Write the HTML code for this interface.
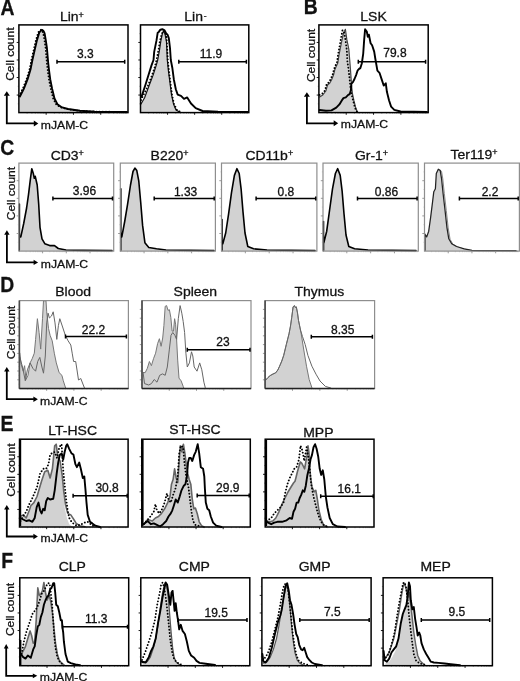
<!DOCTYPE html>
<html><head><meta charset="utf-8"><title>Figure</title>
<style>
html,body{margin:0;padding:0;background:#fff;width:520px;height:681px;overflow:hidden;}
svg{display:block;will-change:transform;font-family:"Liberation Sans", sans-serif;}
svg text{fill:#111;stroke:#111;stroke-width:0.3px;}
</style></head><body>
<svg width="520" height="681" viewBox="0 0 520 681">
<rect width="520" height="681" fill="#fff"/>
<text font-size="21.5" text-anchor="start" font-weight="bold" transform="translate(0.62,14.72) scale(0.9,1.0)">A</text>
<text font-size="21.5" text-anchor="start" font-weight="bold" transform="translate(303.84,13.78) scale(0.9,1.0)">B</text>
<path d="M6.80,95.30V123.40H34.30" stroke="#000" stroke-width="1.8" fill="none"/>
<path d="M6.80,91.30L3.80,95.80L9.80,95.80Z" fill="#000"/>
<path d="M38.30,123.40L33.80,120.40L33.80,126.40Z" fill="#000"/>
<text font-size="12.2" text-anchor="start" transform="translate(40.76,128.74) scale(1.0,0.85)">mJAM-C</text>
<text font-size="12" text-anchor="middle" transform="translate(14.46,54.14) rotate(-90) scale(1.0,0.87)">Cell count</text>
<path d="M306.90,96.30V123.30H334.20" stroke="#000" stroke-width="1.8" fill="none"/>
<path d="M306.90,92.30L303.90,96.80L309.90,96.80Z" fill="#000"/>
<path d="M338.20,123.30L333.70,120.30L333.70,126.30Z" fill="#000"/>
<text font-size="12.2" text-anchor="start" transform="translate(340.76,128.26) scale(1.0,0.85)">mJAM-C</text>
<text font-size="12" text-anchor="middle" transform="translate(314.92,55.46) rotate(-90) scale(1.0,0.87)">Cell count</text>
<polygon points="19.90,112.60 19.90,96.50 23.80,88.80 27.60,79.20 30.50,69.60 32.40,60.00 34.60,50.40 36.90,40.40 39.20,32.70 41.00,30.50 42.30,30.00 42.40,31.20 43.40,33.50 44.60,40.40 45.70,48.00 46.40,56.00 47.00,63.00 47.80,70.00 49.00,79.20 50.90,88.80 53.30,98.50 56.20,104.20 60.10,107.10 66.80,109.00 78.80,110.80 93.80,111.60 125.80,112.00 125.80,112.60" fill="#d2d2d2" stroke="none"/>
<polyline points="19.00,96.10 22.90,88.40 26.70,78.80 29.60,69.20 31.50,59.60 33.70,50.00 36.00,40.00 38.30,32.30 40.10,30.10 41.40,29.60 42.30,31.20 43.30,33.50 44.50,40.40 45.60,48.00 46.30,56.00 46.90,63.00 47.70,70.00 48.90,79.20 50.80,88.80 53.20,98.50 56.10,104.20 60.00,107.10 66.70,109.00 78.70,110.80 93.70,111.60 125.70,112.00" fill="none" stroke="#000" stroke-width="1.9" stroke-linejoin="round" stroke-linecap="round" stroke-dasharray="0.01 3.2"/>
<polyline points="19.90,96.50 23.80,88.80 27.60,79.20 30.50,69.60 32.40,60.00 34.60,50.40 36.90,40.40 39.20,32.70 41.00,30.50 42.30,30.00 43.60,31.20 44.60,33.50 45.80,40.40 46.90,48.00 47.60,56.00 48.20,63.00 49.00,70.00 50.20,79.20 52.10,88.80 54.50,98.50 57.40,104.20 61.30,107.10 68.00,109.00 80.00,110.80 95.00,111.60 127.00,112.00" fill="none" stroke="#000" stroke-width="1.9" stroke-linejoin="round" stroke-linecap="round"/>
<path d="M16.70,42.44H18.90 M16.70,59.98H18.90 M16.70,77.52H18.90 M16.70,95.06H18.90 M46.17,112.60V114.80 M73.45,112.60V114.80 M100.72,112.60V114.80" stroke="#000" stroke-width="0.9" fill="none"/>
<path d="M17.70,33.67H18.90 M17.70,51.21H18.90 M17.70,68.75H18.90 M17.70,86.29H18.90 M17.70,103.83H18.90 M27.11,112.60V113.80 M31.91,112.60V113.80 M35.32,112.60V113.80 M37.96,112.60V113.80 M40.12,112.60V113.80 M41.95,112.60V113.80 M43.53,112.60V113.80 M44.93,112.60V113.80 M54.39,112.60V113.80 M59.19,112.60V113.80 M62.60,112.60V113.80 M65.24,112.60V113.80 M67.40,112.60V113.80 M69.23,112.60V113.80 M70.81,112.60V113.80 M72.20,112.60V113.80 M81.66,112.60V113.80 M86.46,112.60V113.80 M89.87,112.60V113.80 M92.51,112.60V113.80 M94.67,112.60V113.80 M96.50,112.60V113.80 M98.08,112.60V113.80 M99.48,112.60V113.80 M108.94,112.60V113.80 M113.74,112.60V113.80 M117.15,112.60V113.80 M119.79,112.60V113.80 M121.95,112.60V113.80 M123.78,112.60V113.80 M125.36,112.60V113.80 M126.75,112.60V113.80" stroke="#000" stroke-width="0.5" stroke-opacity="0.6" fill="none"/>
<rect x="18.90" y="24.90" width="109.10" height="87.70" fill="none" stroke="#000" stroke-width="1.5"/>
<text font-size="14.0" text-anchor="middle" transform="translate(71.88,21.34) scale(1.0,0.93)">Lin<tspan font-size="9" dy="-3.9">+</tspan></text>
<path d="M57.00,61.80H124.70M57.00,59.80V63.80M124.70,59.80V63.80" stroke="#000" stroke-width="1.5" fill="none"/>
<text x="85.44" y="58.30" font-size="12" text-anchor="middle">3.3</text>
<polygon points="141.00,112.60 141.00,104.00 144.60,97.70 149.20,85.40 153.00,75.40 156.20,65.40 157.70,60.00 159.50,50.00 161.00,40.00 162.50,33.00 163.50,31.00 165.00,34.00 166.50,42.00 167.30,60.00 168.50,71.50 170.00,83.00 171.50,94.60 173.50,104.00 176.00,110.00 180.00,112.30 180.00,112.60" fill="#d2d2d2" stroke="none"/>
<polyline points="141.00,104.00 144.60,97.70 149.20,85.40 153.00,75.40 156.20,65.40 157.70,60.00 159.50,50.00 161.00,40.00 162.50,33.00 163.50,31.00 165.00,34.00 166.50,42.00 167.30,60.00 168.50,71.50 170.00,83.00 171.50,94.60 173.50,104.00 176.00,110.00 180.00,112.30" fill="none" stroke="#111" stroke-width="1.2" stroke-linejoin="round" stroke-linecap="round"/>
<polyline points="141.00,100.00 143.00,96.00 147.00,88.00 151.00,78.00 154.50,68.00 156.50,60.00 158.50,50.00 160.00,40.40 161.50,35.00 163.00,31.00 165.00,32.00 166.50,37.00 167.30,50.00 167.80,60.00 169.00,71.50 170.50,83.00 172.00,94.60 174.00,104.00 177.00,110.00 181.00,112.30" fill="none" stroke="#000" stroke-width="1.9" stroke-linejoin="round" stroke-linecap="round" stroke-dasharray="0.01 3.2"/>
<polyline points="141.50,96.90 145.40,85.00 148.50,75.00 151.50,65.40 153.50,60.00 154.20,51.90 156.50,40.40 157.70,32.70 158.80,31.90 160.40,29.60 162.30,29.20 164.60,30.40 166.20,33.50 167.70,35.00 168.80,38.10 170.00,48.00 170.80,60.00 172.30,67.70 173.80,79.20 175.80,89.20 177.70,94.60 181.00,95.80 184.00,98.90 187.20,97.40 191.00,103.50 195.70,108.20 202.60,111.00 218.00,111.70 248.00,112.00" fill="none" stroke="#000" stroke-width="1.9" stroke-linejoin="round" stroke-linecap="round"/>
<path d="M138.30,42.44H140.50 M138.30,59.98H140.50 M138.30,77.52H140.50 M138.30,95.06H140.50 M167.57,112.60V114.80 M194.65,112.60V114.80 M221.73,112.60V114.80" stroke="#000" stroke-width="0.9" fill="none"/>
<path d="M139.30,33.67H140.50 M139.30,51.21H140.50 M139.30,68.75H140.50 M139.30,86.29H140.50 M139.30,103.83H140.50 M148.65,112.60V113.80 M153.42,112.60V113.80 M156.80,112.60V113.80 M159.42,112.60V113.80 M161.57,112.60V113.80 M163.38,112.60V113.80 M164.95,112.60V113.80 M166.34,112.60V113.80 M175.73,112.60V113.80 M180.49,112.60V113.80 M183.88,112.60V113.80 M186.50,112.60V113.80 M188.64,112.60V113.80 M190.46,112.60V113.80 M192.03,112.60V113.80 M193.41,112.60V113.80 M202.80,112.60V113.80 M207.57,112.60V113.80 M210.95,112.60V113.80 M213.57,112.60V113.80 M215.72,112.60V113.80 M217.53,112.60V113.80 M219.10,112.60V113.80 M220.49,112.60V113.80 M229.88,112.60V113.80 M234.64,112.60V113.80 M238.03,112.60V113.80 M240.65,112.60V113.80 M242.79,112.60V113.80 M244.61,112.60V113.80 M246.18,112.60V113.80 M247.56,112.60V113.80" stroke="#000" stroke-width="0.5" stroke-opacity="0.6" fill="none"/>
<rect x="140.50" y="24.90" width="108.30" height="87.70" fill="none" stroke="#000" stroke-width="1.5"/>
<text font-size="14.0" text-anchor="middle" transform="translate(195.38,21.34) scale(1.0,0.93)">Lin<tspan font-size="8.5" dx="0.8" dy="-3.8">-</tspan></text>
<path d="M178.80,61.80H246.40M178.80,59.80V63.80M246.40,59.80V63.80" stroke="#000" stroke-width="1.5" fill="none"/>
<text x="210.96" y="58.30" font-size="12" text-anchor="middle">11.9</text>
<polygon points="319.60,112.60 319.60,97.00 322.80,95.00 325.80,91.00 327.50,85.00 329.80,83.00 331.50,80.00 333.50,75.00 334.70,70.00 335.90,67.00 337.80,63.00 339.00,55.00 340.40,48.00 342.00,40.00 343.50,33.00 345.40,29.30 346.80,39.40 348.80,49.00 349.70,60.00 350.50,70.00 351.20,80.00 351.80,88.00 352.50,94.00 354.00,101.00 355.50,107.00 357.00,111.00 358.00,112.50 358.00,112.60" fill="#d2d2d2" stroke="none"/>
<polyline points="319.60,97.00 322.80,95.00 325.80,91.00 327.50,85.00 329.80,83.00 331.50,80.00 333.50,75.00 334.70,70.00 335.90,67.00 337.80,63.00 339.00,55.00 340.40,48.00 342.00,40.00 343.50,33.00 345.40,29.30 346.80,39.40 348.80,49.00 349.70,60.00 350.50,70.00 351.20,80.00 351.80,88.00 352.50,94.00 354.00,101.00 355.50,107.00 357.00,111.00 358.00,112.50" fill="none" stroke="#444" stroke-width="1.2" stroke-linejoin="round" stroke-linecap="round"/>
<polyline points="319.60,94.90 322.80,93.30 325.10,90.20 326.70,83.80 329.10,82.20 330.70,79.00 332.70,74.30 333.90,69.50 335.10,66.30 337.00,62.40 338.20,53.80 339.60,46.20 341.10,37.50 342.50,30.30 344.00,32.00 345.50,40.00 346.80,50.00 347.40,61.60 348.60,69.50 349.70,79.80 350.50,87.80 351.30,93.30 352.90,99.70 354.50,106.00 356.10,110.80 358.00,112.30" fill="none" stroke="#000" stroke-width="1.9" stroke-linejoin="round" stroke-linecap="round" stroke-dasharray="0.01 3.2"/>
<polyline points="319.60,110.00 325.90,110.80 331.50,110.40 336.30,107.60 339.40,104.40 341.80,100.50 343.40,98.10 345.80,97.30 348.20,94.90 349.70,94.10 350.90,90.20 351.30,83.80 352.90,82.20 354.50,79.00 356.10,75.10 357.70,70.30 359.50,68.50 360.30,68.30 361.80,63.50 363.20,53.80 364.20,39.40 365.10,29.30 366.80,31.50 367.80,36.80 368.90,34.70 370.60,43.20 372.10,45.30 374.20,51.60 375.20,58.00 377.40,70.70 379.50,72.80 381.60,79.10 383.70,85.50 385.80,83.30 386.90,91.80 389.00,100.30 391.10,106.60 394.30,109.80 400.60,111.50 427.00,112.00" fill="none" stroke="#000" stroke-width="1.9" stroke-linejoin="round" stroke-linecap="round"/>
<path d="M316.70,42.44H318.90 M316.70,59.98H318.90 M316.70,77.52H318.90 M316.70,95.06H318.90 M346.22,112.60V114.80 M373.55,112.60V114.80 M400.88,112.60V114.80" stroke="#000" stroke-width="0.9" fill="none"/>
<path d="M317.70,33.67H318.90 M317.70,51.21H318.90 M317.70,68.75H318.90 M317.70,86.29H318.90 M317.70,103.83H318.90 M327.13,112.60V113.80 M331.94,112.60V113.80 M335.35,112.60V113.80 M338.00,112.60V113.80 M340.16,112.60V113.80 M341.99,112.60V113.80 M343.58,112.60V113.80 M344.97,112.60V113.80 M354.45,112.60V113.80 M359.26,112.60V113.80 M362.68,112.60V113.80 M365.32,112.60V113.80 M367.49,112.60V113.80 M369.32,112.60V113.80 M370.90,112.60V113.80 M372.30,112.60V113.80 M381.78,112.60V113.80 M386.59,112.60V113.80 M390.00,112.60V113.80 M392.65,112.60V113.80 M394.81,112.60V113.80 M396.64,112.60V113.80 M398.23,112.60V113.80 M399.62,112.60V113.80 M409.10,112.60V113.80 M413.91,112.60V113.80 M417.33,112.60V113.80 M419.97,112.60V113.80 M422.14,112.60V113.80 M423.97,112.60V113.80 M425.55,112.60V113.80 M426.95,112.60V113.80" stroke="#000" stroke-width="0.5" stroke-opacity="0.6" fill="none"/>
<rect x="318.90" y="24.90" width="109.30" height="87.70" fill="none" stroke="#000" stroke-width="1.5"/>
<text font-size="14.0" text-anchor="middle" transform="translate(373.52,21.34) scale(1.0,0.93)">LSK</text>
<path d="M358.30,61.80H425.60M358.30,59.80V63.80M425.60,59.80V63.80" stroke="#000" stroke-width="1.5" fill="none"/>
<text x="394.96" y="57.00" font-size="12" text-anchor="middle">79.8</text>
<text font-size="21.5" text-anchor="start" font-weight="bold" transform="translate(0.30,154.62) scale(0.9,1.0)">C</text>
<path d="M6.90,234.30V262.40H34.10" stroke="#000" stroke-width="1.8" fill="none"/>
<path d="M6.90,230.30L4.20,234.80L9.60,234.80Z" fill="#000"/>
<path d="M38.10,262.40L33.60,259.70L33.60,265.10Z" fill="#000"/>
<text font-size="12.2" text-anchor="start" transform="translate(40.76,267.84) scale(1.0,0.85)">mJAM-C</text>
<text font-size="12" text-anchor="middle" transform="translate(14.72,193.56) rotate(-90) scale(1.0,0.87)">Cell count</text>
<polygon points="20.80,251.10 20.80,236.90 23.70,223.50 26.60,208.00 28.50,194.60 30.40,179.20 31.80,168.70 33.30,173.50 34.30,178.30 35.20,176.30 37.20,185.00 38.70,204.20 40.00,227.30 42.00,238.80 44.80,243.70 49.70,245.60 54.50,245.60 58.30,248.50 66.00,250.00 83.30,250.40 112.00,250.60 112.00,251.10" fill="#d2d2d2" stroke="none"/>
<polyline points="19.40,250.60 19.40,204.00 19.40,236.90 20.80,236.90 23.70,223.50 26.60,208.00 28.50,194.60 30.40,179.20 31.80,168.70 33.30,173.50 34.30,178.30 35.20,176.30 37.20,185.00 38.70,204.20 40.00,227.30 42.00,238.80 44.80,243.70 49.70,245.60 54.50,245.60 58.30,248.50 66.00,250.00 83.30,250.40 112.00,250.60" fill="none" stroke="#000" stroke-width="1.6" stroke-linejoin="round" stroke-linecap="round"/>
<path d="M16.70,180.70H18.90 M16.70,198.30H18.90 M16.70,215.90H18.90 M16.70,233.50H18.90 M42.60,251.10V253.30 M66.30,251.10V253.30 M90.00,251.10V253.30" stroke="#8e8e8e" stroke-width="0.9" fill="none"/>
<path d="M17.70,171.90H18.90 M17.70,189.50H18.90 M17.70,207.10H18.90 M17.70,224.70H18.90 M17.70,242.30H18.90 M26.03,251.10V252.30 M30.21,251.10V252.30 M33.17,251.10V252.30 M35.47,251.10V252.30 M37.34,251.10V252.30 M38.93,251.10V252.30 M40.30,251.10V252.30 M41.52,251.10V252.30 M49.73,251.10V252.30 M53.91,251.10V252.30 M56.87,251.10V252.30 M59.17,251.10V252.30 M61.04,251.10V252.30 M62.63,251.10V252.30 M64.00,251.10V252.30 M65.22,251.10V252.30 M73.43,251.10V252.30 M77.61,251.10V252.30 M80.57,251.10V252.30 M82.87,251.10V252.30 M84.74,251.10V252.30 M86.33,251.10V252.30 M87.70,251.10V252.30 M88.92,251.10V252.30 M97.13,251.10V252.30 M101.31,251.10V252.30 M104.27,251.10V252.30 M106.57,251.10V252.30 M108.44,251.10V252.30 M110.03,251.10V252.30 M111.40,251.10V252.30 M112.62,251.10V252.30" stroke="#8e8e8e" stroke-width="0.5" stroke-opacity="0.6" fill="none"/>
<rect x="18.90" y="163.10" width="94.80" height="88.00" fill="none" stroke="#8e8e8e" stroke-width="1.2"/>
<text font-size="14.0" text-anchor="middle" transform="translate(67.26,159.50) scale(1.0,0.93)">CD3<tspan font-size="9" dy="-3.9">+</tspan></text>
<path d="M52.90,198.50H112.50M52.90,196.50V200.50M112.50,196.50V200.50" stroke="#000" stroke-width="1.5" fill="none"/>
<text x="84.53" y="195.34" font-size="12" text-anchor="middle">3.96</text>
<polygon points="121.80,251.10 121.80,236.90 124.70,221.50 127.60,204.20 130.50,185.00 133.00,171.50 134.90,168.10 136.80,170.60 138.80,181.20 140.70,202.30 142.60,225.40 144.90,242.70 148.80,247.50 156.50,248.80 166.00,250.00 214.00,250.60 214.00,251.10" fill="#d2d2d2" stroke="none"/>
<polyline points="120.80,250.60 120.80,188.80 120.80,236.90 121.80,236.90 124.70,221.50 127.60,204.20 130.50,185.00 133.00,171.50 134.90,168.10 136.80,170.60 138.80,181.20 140.70,202.30 142.60,225.40 144.90,242.70 148.80,247.50 156.50,248.80 166.00,250.00 214.00,250.60" fill="none" stroke="#000" stroke-width="1.6" stroke-linejoin="round" stroke-linecap="round"/>
<path d="M118.10,180.70H120.30 M118.10,198.30H120.30 M118.10,215.90H120.30 M118.10,233.50H120.30 M144.07,251.10V253.30 M167.85,251.10V253.30 M191.62,251.10V253.30" stroke="#8e8e8e" stroke-width="0.9" fill="none"/>
<path d="M119.10,171.90H120.30 M119.10,189.50H120.30 M119.10,207.10H120.30 M119.10,224.70H120.30 M119.10,242.30H120.30 M127.46,251.10V252.30 M131.64,251.10V252.30 M134.61,251.10V252.30 M136.92,251.10V252.30 M138.80,251.10V252.30 M140.39,251.10V252.30 M141.77,251.10V252.30 M142.99,251.10V252.30 M151.23,251.10V252.30 M155.42,251.10V252.30 M158.39,251.10V252.30 M160.69,251.10V252.30 M162.58,251.10V252.30 M164.17,251.10V252.30 M165.55,251.10V252.30 M166.76,251.10V252.30 M175.01,251.10V252.30 M179.19,251.10V252.30 M182.16,251.10V252.30 M184.47,251.10V252.30 M186.35,251.10V252.30 M187.94,251.10V252.30 M189.32,251.10V252.30 M190.54,251.10V252.30 M198.78,251.10V252.30 M202.97,251.10V252.30 M205.94,251.10V252.30 M208.24,251.10V252.30 M210.13,251.10V252.30 M211.72,251.10V252.30 M213.10,251.10V252.30 M214.31,251.10V252.30" stroke="#8e8e8e" stroke-width="0.5" stroke-opacity="0.6" fill="none"/>
<rect x="120.30" y="163.10" width="95.10" height="88.00" fill="none" stroke="#8e8e8e" stroke-width="1.2"/>
<text font-size="14.0" text-anchor="middle" transform="translate(169.53,159.50) scale(1.0,0.93)">B220<tspan font-size="9" dy="-3.9">+</tspan></text>
<path d="M154.20,198.50H214.20M154.20,196.50V200.50M214.20,196.50V200.50" stroke="#000" stroke-width="1.5" fill="none"/>
<text x="185.63" y="195.66" font-size="12" text-anchor="middle">1.33</text>
<polygon points="222.80,251.10 222.80,243.70 225.70,233.00 228.60,213.80 231.50,192.70 234.40,175.40 236.90,168.70 239.20,173.50 241.10,188.80 243.00,211.90 245.00,233.00 247.80,246.50 253.60,248.80 267.00,250.00 315.00,250.60 315.00,251.10" fill="#d2d2d2" stroke="none"/>
<polyline points="222.00,250.60 222.00,219.60 222.00,243.70 222.80,243.70 225.70,233.00 228.60,213.80 231.50,192.70 234.40,175.40 236.90,168.70 239.20,173.50 241.10,188.80 243.00,211.90 245.00,233.00 247.80,246.50 253.60,248.80 267.00,250.00 315.00,250.60" fill="none" stroke="#000" stroke-width="1.6" stroke-linejoin="round" stroke-linecap="round"/>
<path d="M219.30,180.70H221.50 M219.30,198.30H221.50 M219.30,215.90H221.50 M219.30,233.50H221.50 M245.35,251.10V253.30 M269.20,251.10V253.30 M293.05,251.10V253.30" stroke="#8e8e8e" stroke-width="0.9" fill="none"/>
<path d="M220.30,171.90H221.50 M220.30,189.50H221.50 M220.30,207.10H221.50 M220.30,224.70H221.50 M220.30,242.30H221.50 M228.68,251.10V252.30 M232.88,251.10V252.30 M235.86,251.10V252.30 M238.17,251.10V252.30 M240.06,251.10V252.30 M241.66,251.10V252.30 M243.04,251.10V252.30 M244.26,251.10V252.30 M252.53,251.10V252.30 M256.73,251.10V252.30 M259.71,251.10V252.30 M262.02,251.10V252.30 M263.91,251.10V252.30 M265.51,251.10V252.30 M266.89,251.10V252.30 M268.11,251.10V252.30 M276.38,251.10V252.30 M280.58,251.10V252.30 M283.56,251.10V252.30 M285.87,251.10V252.30 M287.76,251.10V252.30 M289.36,251.10V252.30 M290.74,251.10V252.30 M291.96,251.10V252.30 M300.23,251.10V252.30 M304.43,251.10V252.30 M307.41,251.10V252.30 M309.72,251.10V252.30 M311.61,251.10V252.30 M313.21,251.10V252.30 M314.59,251.10V252.30 M315.81,251.10V252.30" stroke="#8e8e8e" stroke-width="0.5" stroke-opacity="0.6" fill="none"/>
<rect x="221.50" y="163.10" width="95.40" height="88.00" fill="none" stroke="#8e8e8e" stroke-width="1.2"/>
<text font-size="14.0" text-anchor="middle" transform="translate(269.28,159.50) scale(1.0,0.93)">CD11b<tspan font-size="9" dy="-3.9">+</tspan></text>
<path d="M256.10,198.50H315.70M256.10,196.50V200.50M315.70,196.50V200.50" stroke="#000" stroke-width="1.5" fill="none"/>
<text x="285.91" y="195.98" font-size="12" text-anchor="middle">0.8</text>
<polygon points="323.80,251.10 323.80,242.70 326.70,231.20 329.60,210.00 332.50,188.80 335.40,173.50 337.70,168.70 340.20,175.40 342.10,190.80 344.00,213.80 346.00,235.00 348.80,246.50 354.60,248.80 368.00,250.00 416.00,250.60 416.00,251.10" fill="#d2d2d2" stroke="none"/>
<polyline points="323.50,250.60 323.50,221.50 323.50,242.70 323.80,242.70 326.70,231.20 329.60,210.00 332.50,188.80 335.40,173.50 337.70,168.70 340.20,175.40 342.10,190.80 344.00,213.80 346.00,235.00 348.80,246.50 354.60,248.80 368.00,250.00 416.00,250.60" fill="none" stroke="#000" stroke-width="1.6" stroke-linejoin="round" stroke-linecap="round"/>
<path d="M320.80,180.70H323.00 M320.80,198.30H323.00 M320.80,215.90H323.00 M320.80,233.50H323.00 M346.82,251.10V253.30 M370.65,251.10V253.30 M394.48,251.10V253.30" stroke="#8e8e8e" stroke-width="0.9" fill="none"/>
<path d="M321.80,171.90H323.00 M321.80,189.50H323.00 M321.80,207.10H323.00 M321.80,224.70H323.00 M321.80,242.30H323.00 M330.17,251.10V252.30 M334.37,251.10V252.30 M337.34,251.10V252.30 M339.65,251.10V252.30 M341.54,251.10V252.30 M343.13,251.10V252.30 M344.52,251.10V252.30 M345.73,251.10V252.30 M354.00,251.10V252.30 M358.19,251.10V252.30 M361.17,251.10V252.30 M363.48,251.10V252.30 M365.36,251.10V252.30 M366.96,251.10V252.30 M368.34,251.10V252.30 M369.56,251.10V252.30 M377.82,251.10V252.30 M382.02,251.10V252.30 M384.99,251.10V252.30 M387.30,251.10V252.30 M389.19,251.10V252.30 M390.78,251.10V252.30 M392.17,251.10V252.30 M393.38,251.10V252.30 M401.65,251.10V252.30 M405.84,251.10V252.30 M408.82,251.10V252.30 M411.13,251.10V252.30 M413.01,251.10V252.30 M414.61,251.10V252.30 M415.99,251.10V252.30 M417.21,251.10V252.30" stroke="#8e8e8e" stroke-width="0.5" stroke-opacity="0.6" fill="none"/>
<rect x="323.00" y="163.10" width="95.30" height="88.00" fill="none" stroke="#8e8e8e" stroke-width="1.2"/>
<text font-size="14.0" text-anchor="middle" transform="translate(371.53,159.50) scale(1.0,0.93)">Gr-1<tspan font-size="9" dy="-3.9">+</tspan></text>
<path d="M357.50,198.50H417.10M357.50,196.50V200.50M417.10,196.50V200.50" stroke="#000" stroke-width="1.5" fill="none"/>
<text x="386.47" y="195.98" font-size="12" text-anchor="middle">0.86</text>
<polyline points="431.90,218.30 433.80,202.90 435.10,192.30 436.70,189.40 437.60,174.10 439.60,169.80 441.50,171.20 442.80,178.90 444.30,193.30 446.30,210.60 448.20,227.90 450.10,239.40 453.00,244.30 457.80,247.10 465.50,249.40 473.30,251.00 517.30,251.20" fill="none" stroke="#888" stroke-width="1.0" stroke-linejoin="round" stroke-linecap="round"/>
<polygon points="424.80,251.10 424.80,234.00 426.70,236.90 428.70,231.20 430.60,217.70 432.50,202.30 433.80,191.70 435.40,188.80 436.30,173.50 438.30,169.20 440.20,170.60 441.50,178.30 443.00,192.70 445.00,210.00 446.90,227.30 448.80,238.80 451.70,243.70 456.50,246.50 464.20,248.80 472.00,250.40 516.00,250.60 516.00,251.10" fill="#d2d2d2" stroke="none"/>
<polyline points="425.00,250.60 425.00,234.00 425.00,234.00 424.80,234.00 426.70,236.90 428.70,231.20 430.60,217.70 432.50,202.30 433.80,191.70 435.40,188.80 436.30,173.50 438.30,169.20 440.20,170.60 441.50,178.30 443.00,192.70 445.00,210.00 446.90,227.30 448.80,238.80 451.70,243.70 456.50,246.50 464.20,248.80 472.00,250.40 516.00,250.60" fill="none" stroke="#222" stroke-width="1.25" stroke-linejoin="round" stroke-linecap="round"/>
<path d="M422.30,180.70H424.50 M422.30,198.30H424.50 M422.30,215.90H424.50 M422.30,233.50H424.50 M448.23,251.10V253.30 M471.95,251.10V253.30 M495.67,251.10V253.30" stroke="#8e8e8e" stroke-width="0.9" fill="none"/>
<path d="M423.30,171.90H424.50 M423.30,189.50H424.50 M423.30,207.10H424.50 M423.30,224.70H424.50 M423.30,242.30H424.50 M431.64,251.10V252.30 M435.82,251.10V252.30 M438.78,251.10V252.30 M441.08,251.10V252.30 M442.96,251.10V252.30 M444.55,251.10V252.30 M445.93,251.10V252.30 M447.14,251.10V252.30 M455.37,251.10V252.30 M459.54,251.10V252.30 M462.51,251.10V252.30 M464.81,251.10V252.30 M466.69,251.10V252.30 M468.27,251.10V252.30 M469.65,251.10V252.30 M470.86,251.10V252.30 M479.09,251.10V252.30 M483.27,251.10V252.30 M486.23,251.10V252.30 M488.53,251.10V252.30 M490.41,251.10V252.30 M492.00,251.10V252.30 M493.38,251.10V252.30 M494.59,251.10V252.30 M502.82,251.10V252.30 M506.99,251.10V252.30 M509.96,251.10V252.30 M512.26,251.10V252.30 M514.14,251.10V252.30 M515.72,251.10V252.30 M517.10,251.10V252.30 M518.31,251.10V252.30" stroke="#8e8e8e" stroke-width="0.5" stroke-opacity="0.6" fill="none"/>
<rect x="424.50" y="163.10" width="94.90" height="88.00" fill="none" stroke="#8e8e8e" stroke-width="1.2"/>
<text font-size="14.0" text-anchor="middle" transform="translate(473.95,158.70) scale(1.0,0.93)">Ter119<tspan font-size="9" dy="-3.9">+</tspan></text>
<path d="M459.40,198.50H518.20M459.40,196.50V200.50M518.20,196.50V200.50" stroke="#000" stroke-width="1.5" fill="none"/>
<text x="490.00" y="195.98" font-size="12" text-anchor="middle">2.2</text>
<text font-size="21.5" text-anchor="start" font-weight="bold" transform="translate(0.30,292.16) scale(0.9,1.0)">D</text>
<path d="M6.80,371.10V399.20H33.90" stroke="#000" stroke-width="1.8" fill="none"/>
<path d="M6.80,367.10L4.10,371.60L9.50,371.60Z" fill="#000"/>
<path d="M37.90,399.20L33.40,396.50L33.40,401.90Z" fill="#000"/>
<text font-size="12.2" text-anchor="start" transform="translate(40.08,404.76) scale(1.0,0.85)">mJAM-C</text>
<text font-size="12" text-anchor="middle" transform="translate(14.92,332.48) rotate(-90) scale(1.0,0.87)">Cell count</text>
<polygon points="19.80,388.60 19.80,353.20 21.10,364.30 23.20,371.20 24.60,365.70 26.00,379.50 28.00,375.30 30.10,362.90 32.20,358.70 34.30,353.20 35.60,339.40 37.40,318.70 39.10,332.50 40.70,349.10 42.50,318.70 43.50,300.80 46.00,300.80 46.70,311.80 48.50,328.40 50.10,335.30 52.20,340.80 54.30,353.20 56.30,362.90 59.10,372.60 61.90,375.30 63.30,380.80 65.30,387.00 66.00,388.50 66.00,388.60" fill="#d2d2d2" stroke="none"/>
<polyline points="19.80,353.20 21.10,364.30 23.20,371.20 24.60,365.70 26.00,379.50 28.00,375.30 30.10,362.90 32.20,358.70 34.30,353.20 35.60,339.40 37.40,318.70 39.10,332.50 40.70,349.10 42.50,318.70 43.50,300.80 46.00,300.80 46.70,311.80 48.50,328.40 50.10,335.30 52.20,340.80 54.30,353.20 56.30,362.90 59.10,372.60 61.90,375.30 63.30,380.80 65.30,387.00 66.00,388.50" fill="none" stroke="#777" stroke-width="1.0" stroke-linejoin="round" stroke-linecap="round"/>
<polyline points="19.80,357.40 22.50,367.00 25.30,380.80 27.40,369.80 30.10,362.90 32.90,368.40 35.60,371.20 37.70,361.50 39.80,357.40 41.90,367.00 43.50,373.20 45.30,356.00 46.70,322.90 48.10,313.20 49.40,318.00 51.50,316.00 53.20,311.80 55.00,322.90 56.80,339.40 58.40,325.60 59.80,318.70 62.60,327.00 65.30,335.30 68.10,340.80 70.80,345.00 72.20,353.20 73.60,361.50 75.70,361.50 77.00,370.00 78.50,380.00 80.80,378.50 82.50,383.00 84.60,388.30" fill="none" stroke="#666" stroke-width="1.0" stroke-linejoin="round" stroke-linecap="round"/>
<path d="M17.20,309.40H19.40 M17.20,318.20H19.40 M17.20,327.00H19.40 M17.20,335.80H19.40 M17.20,344.60H19.40 M17.20,353.40H19.40 M17.20,362.20H19.40 M17.20,371.00H19.40 M17.20,379.80H19.40 M46.65,388.60V390.80 M73.90,388.60V390.80 M101.15,388.60V390.80" stroke="#8e8e8e" stroke-width="0.9" fill="none"/>
<path d="M18.20,305.00H19.40 M18.20,313.80H19.40 M18.20,322.60H19.40 M18.20,331.40H19.40 M18.20,340.20H19.40 M18.20,349.00H19.40 M18.20,357.80H19.40 M18.20,366.60H19.40 M18.20,375.40H19.40 M18.20,384.20H19.40 M27.60,388.60V389.80 M32.40,388.60V389.80 M35.81,388.60V389.80 M38.45,388.60V389.80 M40.60,388.60V389.80 M42.43,388.60V389.80 M44.01,388.60V389.80 M45.40,388.60V389.80 M54.85,388.60V389.80 M59.65,388.60V389.80 M63.06,388.60V389.80 M65.70,388.60V389.80 M67.85,388.60V389.80 M69.68,388.60V389.80 M71.26,388.60V389.80 M72.65,388.60V389.80 M82.10,388.60V389.80 M86.90,388.60V389.80 M90.31,388.60V389.80 M92.95,388.60V389.80 M95.10,388.60V389.80 M96.93,388.60V389.80 M98.51,388.60V389.80 M99.90,388.60V389.80 M109.35,388.60V389.80 M114.15,388.60V389.80 M117.56,388.60V389.80 M120.20,388.60V389.80 M122.35,388.60V389.80 M124.18,388.60V389.80 M125.76,388.60V389.80 M127.15,388.60V389.80" stroke="#8e8e8e" stroke-width="0.5" stroke-opacity="0.6" fill="none"/>
<rect x="19.40" y="300.60" width="109.00" height="88.00" fill="none" stroke="#8e8e8e" stroke-width="1.2"/>
<path d="M19.4,300.6V388.6" stroke="#4a4a4a" stroke-width="1.6" fill="none"/>
<path d="M19.4,388.6H128.4" stroke="#222" stroke-width="1.5" fill="none"/>
<text font-size="14.0" text-anchor="middle" transform="translate(73.14,295.60) scale(1.0,0.93)">Blood</text>
<path d="M65.50,336.40H126.40M65.50,334.40V338.40M126.40,334.40V338.40" stroke="#000" stroke-width="1.5" fill="none"/>
<text x="93.48" y="333.64" font-size="12" text-anchor="middle">22.2</text>
<polygon points="143.10,388.60 143.10,372.60 145.20,372.60 147.30,368.40 149.40,361.50 151.40,365.70 153.50,358.70 155.60,353.20 157.60,343.60 159.40,338.70 161.10,346.30 162.70,338.00 163.90,325.60 165.20,306.30 166.60,305.60 168.00,310.40 169.40,309.70 170.80,317.30 172.10,331.10 173.50,331.10 174.60,318.70 175.60,324.20 176.60,339.40 177.70,360.10 179.00,378.10 181.10,380.80 183.20,386.40 184.00,388.50 184.00,388.60" fill="#d2d2d2" stroke="none"/>
<polyline points="143.10,372.60 145.20,372.60 147.30,368.40 149.40,361.50 151.40,365.70 153.50,358.70 155.60,353.20 157.60,343.60 159.40,338.70 161.10,346.30 162.70,338.00 163.90,325.60 165.20,306.30 166.60,305.60 168.00,310.40 169.40,309.70 170.80,317.30 172.10,331.10 173.50,331.10 174.60,318.70 175.60,324.20 176.60,339.40 177.70,360.10 179.00,378.10 181.10,380.80 183.20,386.40 184.00,388.50" fill="none" stroke="#777" stroke-width="1.0" stroke-linejoin="round" stroke-linecap="round"/>
<polyline points="143.10,372.60 144.50,383.60 148.70,385.00 151.40,383.60 154.20,379.50 157.00,382.20 159.70,375.30 162.50,373.90 165.20,375.30 167.30,367.00 169.40,349.10 171.00,335.30 172.80,332.50 174.90,335.30 176.60,339.40 178.30,318.70 180.10,305.60 181.80,313.20 183.20,321.50 184.60,332.50 185.90,353.20 187.30,367.00 189.40,362.90 191.50,351.80 192.80,356.00 194.20,367.00 197.00,371.20 199.70,362.90 201.80,369.80 203.90,382.20 205.30,387.70 206.00,388.50" fill="none" stroke="#666" stroke-width="1.0" stroke-linejoin="round" stroke-linecap="round"/>
<path d="M139.80,309.40H142.00 M139.80,318.20H142.00 M139.80,327.00H142.00 M139.80,335.80H142.00 M139.80,344.60H142.00 M139.80,353.40H142.00 M139.80,362.20H142.00 M139.80,371.00H142.00 M139.80,379.80H142.00 M169.25,388.60V390.80 M196.50,388.60V390.80 M223.75,388.60V390.80" stroke="#8e8e8e" stroke-width="0.9" fill="none"/>
<path d="M140.80,305.00H142.00 M140.80,313.80H142.00 M140.80,322.60H142.00 M140.80,331.40H142.00 M140.80,340.20H142.00 M140.80,349.00H142.00 M140.80,357.80H142.00 M140.80,366.60H142.00 M140.80,375.40H142.00 M140.80,384.20H142.00 M150.20,388.60V389.80 M155.00,388.60V389.80 M158.41,388.60V389.80 M161.05,388.60V389.80 M163.20,388.60V389.80 M165.03,388.60V389.80 M166.61,388.60V389.80 M168.00,388.60V389.80 M177.45,388.60V389.80 M182.25,388.60V389.80 M185.66,388.60V389.80 M188.30,388.60V389.80 M190.45,388.60V389.80 M192.28,388.60V389.80 M193.86,388.60V389.80 M195.25,388.60V389.80 M204.70,388.60V389.80 M209.50,388.60V389.80 M212.91,388.60V389.80 M215.55,388.60V389.80 M217.70,388.60V389.80 M219.53,388.60V389.80 M221.11,388.60V389.80 M222.50,388.60V389.80 M231.95,388.60V389.80 M236.75,388.60V389.80 M240.16,388.60V389.80 M242.80,388.60V389.80 M244.95,388.60V389.80 M246.78,388.60V389.80 M248.36,388.60V389.80 M249.75,388.60V389.80" stroke="#8e8e8e" stroke-width="0.5" stroke-opacity="0.6" fill="none"/>
<rect x="142.00" y="300.60" width="109.00" height="88.00" fill="none" stroke="#8e8e8e" stroke-width="1.2"/>
<path d="M142,300.6V388.6" stroke="#4a4a4a" stroke-width="1.6" fill="none"/>
<path d="M142,388.6H251" stroke="#222" stroke-width="1.5" fill="none"/>
<text font-size="14.0" text-anchor="middle" transform="translate(195.32,295.60) scale(1.0,0.93)">Spleen</text>
<path d="M187.30,349.80H250.00M187.30,347.80V351.80M250.00,347.80V351.80" stroke="#000" stroke-width="1.5" fill="none"/>
<text x="222.92" y="346.08" font-size="12" text-anchor="middle">23</text>
<polygon points="265.60,388.60 265.60,380.20 268.00,377.50 270.20,375.60 273.00,374.00 275.60,372.90 277.80,370.00 279.60,366.20 281.80,361.00 283.70,355.40 285.00,350.00 286.30,344.60 289.00,333.90 290.50,326.00 291.70,317.70 293.10,306.90 294.40,305.60 295.30,307.50 296.30,306.90 297.50,313.00 298.50,320.40 301.20,333.90 303.80,350.00 306.50,366.20 309.20,379.60 311.90,387.70 311.90,388.60" fill="#d2d2d2" stroke="none"/>
<polyline points="265.60,380.20 268.00,377.50 270.20,375.60 273.00,374.00 275.60,372.90 277.80,370.00 279.60,366.20 281.80,361.00 283.70,355.40 285.00,350.00 286.30,344.60 289.00,333.90 290.50,326.00 291.70,317.70 293.10,306.90 294.40,305.60 295.30,307.50 296.30,306.90 297.50,313.00 298.50,320.40 301.20,333.90 303.80,350.00 306.50,366.20 309.20,379.60 311.90,387.70" fill="none" stroke="#777" stroke-width="1.0" stroke-linejoin="round" stroke-linecap="round"/>
<polyline points="265.60,380.20 268.00,377.50 270.20,375.60 273.00,374.00 275.60,372.90 277.80,370.00 279.60,366.20 281.80,361.00 283.70,355.40 285.00,350.00 286.30,344.60 289.00,333.90 290.50,326.00 291.70,317.70 293.10,306.90 294.40,305.60 295.30,307.50 296.30,306.90 297.50,313.00 298.50,320.40 300.50,330.00 302.50,336.50 305.20,344.60 307.90,355.40 311.90,366.20 316.00,374.20 320.00,381.00 325.40,386.40 330.80,388.00" fill="none" stroke="#666" stroke-width="1.0" stroke-linejoin="round" stroke-linecap="round"/>
<path d="M262.90,309.40H265.10 M262.90,318.20H265.10 M262.90,327.00H265.10 M262.90,335.80H265.10 M262.90,344.60H265.10 M262.90,353.40H265.10 M262.90,362.20H265.10 M262.90,371.00H265.10 M262.90,379.80H265.10 M292.48,388.60V390.80 M319.85,388.60V390.80 M347.23,388.60V390.80" stroke="#8e8e8e" stroke-width="0.9" fill="none"/>
<path d="M263.90,305.00H265.10 M263.90,313.80H265.10 M263.90,322.60H265.10 M263.90,331.40H265.10 M263.90,340.20H265.10 M263.90,349.00H265.10 M263.90,357.80H265.10 M263.90,366.60H265.10 M263.90,375.40H265.10 M263.90,384.20H265.10 M273.34,388.60V389.80 M278.16,388.60V389.80 M281.58,388.60V389.80 M284.23,388.60V389.80 M286.40,388.60V389.80 M288.23,388.60V389.80 M289.82,388.60V389.80 M291.22,388.60V389.80 M300.72,388.60V389.80 M305.54,388.60V389.80 M308.96,388.60V389.80 M311.61,388.60V389.80 M313.78,388.60V389.80 M315.61,388.60V389.80 M317.20,388.60V389.80 M318.60,388.60V389.80 M328.09,388.60V389.80 M332.91,388.60V389.80 M336.33,388.60V389.80 M338.98,388.60V389.80 M341.15,388.60V389.80 M342.98,388.60V389.80 M344.57,388.60V389.80 M345.97,388.60V389.80 M355.47,388.60V389.80 M360.29,388.60V389.80 M363.71,388.60V389.80 M366.36,388.60V389.80 M368.53,388.60V389.80 M370.36,388.60V389.80 M371.95,388.60V389.80 M373.35,388.60V389.80" stroke="#8e8e8e" stroke-width="0.5" stroke-opacity="0.6" fill="none"/>
<rect x="265.10" y="300.60" width="109.50" height="88.00" fill="none" stroke="#8e8e8e" stroke-width="1.2"/>
<path d="M265.1,300.6V388.6" stroke="#4a4a4a" stroke-width="1.6" fill="none"/>
<path d="M265.1,388.6H374.6" stroke="#222" stroke-width="1.5" fill="none"/>
<text font-size="14.0" text-anchor="middle" transform="translate(319.36,295.60) scale(1.0,0.93)">Thymus</text>
<path d="M311.30,336.80H372.40M311.30,334.80V338.80M372.40,334.80V338.80" stroke="#000" stroke-width="1.5" fill="none"/>
<text x="342.78" y="333.80" font-size="12" text-anchor="middle">8.35</text>
<text font-size="21.5" text-anchor="start" font-weight="bold" transform="translate(0.48,430.56) scale(0.9,1.0)">E</text>
<path d="M6.80,509.10V536.50H33.90" stroke="#000" stroke-width="1.8" fill="none"/>
<path d="M6.80,505.10L4.10,509.60L9.50,509.60Z" fill="#000"/>
<path d="M37.90,536.50L33.40,533.80L33.40,539.20Z" fill="#000"/>
<text font-size="12.2" text-anchor="start" transform="translate(40.60,542.18) scale(1.0,0.85)">mJAM-C</text>
<text font-size="12" text-anchor="middle" transform="translate(14.50,470.14) rotate(-90) scale(1.0,0.87)">Cell count</text>
<polygon points="20.10,527.00 20.10,516.50 23.20,514.90 26.20,518.00 29.30,510.30 30.80,505.70 33.90,502.60 37.00,496.50 41.60,481.00 44.70,471.80 47.80,470.30 50.10,478.00 52.40,468.80 54.70,445.70 56.20,444.20 57.80,456.50 59.30,452.50 60.30,462.00 61.30,471.00 62.30,481.00 63.50,494.00 64.60,507.20 66.90,518.00 69.20,524.20 72.30,526.50 72.30,527.00" fill="#d2d2d2" stroke="none"/>
<polyline points="20.10,516.50 23.20,514.90 26.20,518.00 29.30,510.30 30.80,505.70 33.90,502.60 37.00,496.50 41.60,481.00 44.70,471.80 47.80,470.30 50.10,478.00 52.40,468.80 54.70,445.70 56.20,444.20 57.80,456.50 60.10,461.00 62.30,476.50 63.80,491.80 65.40,504.20 67.70,513.40 70.80,514.90 73.80,519.50 76.20,523.40 80.00,525.70 85.00,526.80" fill="none" stroke="#666" stroke-width="1.6" stroke-linejoin="round" stroke-linecap="round"/>
<polyline points="20.50,521.00 23.20,516.00 26.20,511.80 28.50,505.70 32.40,498.00 37.00,487.20 40.10,473.40 43.20,468.80 46.20,468.80 48.50,464.20 50.10,454.90 52.40,452.60 54.70,452.00 57.00,458.00 59.30,447.20 61.60,444.20 63.10,468.80 64.60,484.20 66.20,499.50 67.70,510.30 69.20,518.00 71.50,521.80 74.00,524.00 76.90,525.70 81.50,524.20 84.60,522.60 87.70,521.80 90.80,524.20 93.80,526.50" fill="none" stroke="#000" stroke-width="1.9" stroke-linejoin="round" stroke-linecap="round" stroke-dasharray="0.01 3.2"/>
<polyline points="20.10,518.00 23.20,519.50 26.20,521.00 29.30,520.30 32.40,521.80 34.70,518.00 36.70,507.20 38.50,502.60 40.10,510.30 41.60,513.40 43.20,508.80 44.70,510.30 46.20,501.10 47.80,498.00 50.10,499.50 53.20,498.80 54.70,490.30 56.70,473.40 58.20,462.60 59.80,454.90 61.60,453.40 63.20,459.50 64.70,451.80 66.20,445.70 67.20,444.20 69.20,448.80 71.50,453.40 73.40,454.50 75.40,464.20 76.90,467.20 79.20,462.60 80.80,468.80 82.80,478.00 84.30,476.50 85.40,488.80 86.50,502.60 87.70,514.90 90.00,521.80 92.30,523.40 95.40,525.70 100.00,527.00" fill="none" stroke="#000" stroke-width="1.9" stroke-linejoin="round" stroke-linecap="round"/>
<path d="M20.2,440V526" stroke="#000" stroke-width="2.0" fill="none"/>
<path d="M17.30,456.76H19.50 M17.30,474.32H19.50 M17.30,491.88H19.50 M17.30,509.44H19.50 M46.65,527.00V529.20 M73.80,527.00V529.20 M100.95,527.00V529.20" stroke="#000" stroke-width="0.9" fill="none"/>
<path d="M18.30,447.98H19.50 M18.30,465.54H19.50 M18.30,483.10H19.50 M18.30,500.66H19.50 M18.30,518.22H19.50 M27.67,527.00V528.20 M32.45,527.00V528.20 M35.85,527.00V528.20 M38.48,527.00V528.20 M40.63,527.00V528.20 M42.44,527.00V528.20 M44.02,527.00V528.20 M45.41,527.00V528.20 M54.82,527.00V528.20 M59.60,527.00V528.20 M63.00,527.00V528.20 M65.63,527.00V528.20 M67.78,527.00V528.20 M69.59,527.00V528.20 M71.17,527.00V528.20 M72.56,527.00V528.20 M81.97,527.00V528.20 M86.75,527.00V528.20 M90.15,527.00V528.20 M92.78,527.00V528.20 M94.93,527.00V528.20 M96.74,527.00V528.20 M98.32,527.00V528.20 M99.71,527.00V528.20 M109.12,527.00V528.20 M113.90,527.00V528.20 M117.30,527.00V528.20 M119.93,527.00V528.20 M122.08,527.00V528.20 M123.89,527.00V528.20 M125.47,527.00V528.20 M126.86,527.00V528.20" stroke="#000" stroke-width="0.5" stroke-opacity="0.6" fill="none"/>
<rect x="19.50" y="439.20" width="108.60" height="87.80" fill="none" stroke="#000" stroke-width="1.5"/>
<text font-size="14.0" text-anchor="middle" transform="translate(72.66,435.14) scale(1.0,0.93)">LT-HSC</text>
<path d="M73.10,495.80H127.20M73.10,493.80V497.80M127.20,493.80V497.80" stroke="#000" stroke-width="1.5" fill="none"/>
<text x="107.08" y="492.44" font-size="12" text-anchor="middle">30.8</text>
<polygon points="143.80,527.00 143.80,524.20 147.70,519.50 152.30,521.00 155.40,518.00 158.50,516.50 161.50,513.40 164.60,508.80 167.70,502.60 170.00,496.50 171.50,484.20 173.10,479.50 174.60,468.80 176.20,478.00 177.70,482.60 179.20,461.00 180.30,445.70 181.80,451.80 183.40,444.20 184.90,453.40 186.20,464.20 187.70,473.40 189.20,479.50 190.80,484.20 192.30,499.50 193.80,508.80 195.40,508.00 197.20,513.40 199.20,521.80 201.50,525.70 204.00,527.00 204.00,527.00" fill="#d2d2d2" stroke="none"/>
<polyline points="143.80,524.20 147.70,519.50 152.30,521.00 155.40,518.00 158.50,516.50 161.50,513.40 164.60,508.80 167.70,502.60 170.00,496.50 171.50,484.20 173.10,479.50 174.60,468.80 176.20,478.00 177.70,482.60 179.20,461.00 180.30,445.70 181.80,451.80 183.40,444.20 184.90,453.40 186.20,464.20 187.70,473.40 189.20,479.50 190.80,484.20 192.30,499.50 193.80,508.80 195.40,508.00 197.20,513.40 199.20,521.80 201.50,525.70 204.00,527.00" fill="none" stroke="#666" stroke-width="1.6" stroke-linejoin="round" stroke-linecap="round"/>
<polyline points="143.80,524.00 149.20,518.00 153.80,511.80 155.40,504.20 156.90,510.30 159.20,513.40 161.50,510.30 164.60,502.60 166.90,493.40 168.50,499.50 170.80,502.60 173.10,494.90 175.40,488.80 177.70,476.50 179.20,453.40 180.80,445.70 183.10,447.20 184.60,464.20 186.20,476.50 188.50,487.20 190.00,499.50 191.50,511.80 193.10,521.00 195.40,524.90 201.00,526.50" fill="none" stroke="#000" stroke-width="1.9" stroke-linejoin="round" stroke-linecap="round" stroke-dasharray="0.01 3.2"/>
<polyline points="143.80,524.00 147.70,521.00 150.80,524.20 153.80,523.40 156.90,524.90 160.00,526.50 163.10,524.20 166.20,521.00 168.50,516.50 170.80,513.40 172.30,510.30 173.80,505.70 175.70,499.50 177.70,502.60 179.70,496.50 181.50,490.30 183.80,485.70 185.40,484.20 186.90,476.50 188.00,462.60 189.20,458.00 190.80,458.00 192.30,461.00 194.20,454.90 195.70,451.80 197.70,444.20 199.20,453.40 200.80,467.20 203.10,468.80 204.30,476.50 204.90,488.80 205.80,502.60 207.40,508.80 209.20,510.30 210.80,516.50 213.10,522.60 216.20,525.70 221.50,527.00" fill="none" stroke="#000" stroke-width="1.9" stroke-linejoin="round" stroke-linecap="round"/>
<path d="M142.5,440V526" stroke="#000" stroke-width="2.2" fill="none"/>
<path d="M139.60,456.76H141.80 M139.60,474.32H141.80 M139.60,491.88H141.80 M139.60,509.44H141.80 M168.93,527.00V529.20 M196.05,527.00V529.20 M223.18,527.00V529.20" stroke="#000" stroke-width="0.9" fill="none"/>
<path d="M140.60,447.98H141.80 M140.60,465.54H141.80 M140.60,483.10H141.80 M140.60,500.66H141.80 M140.60,518.22H141.80 M149.97,527.00V528.20 M154.74,527.00V528.20 M158.13,527.00V528.20 M160.76,527.00V528.20 M162.91,527.00V528.20 M164.72,527.00V528.20 M166.30,527.00V528.20 M167.68,527.00V528.20 M177.09,527.00V528.20 M181.87,527.00V528.20 M185.26,527.00V528.20 M187.88,527.00V528.20 M190.03,527.00V528.20 M191.85,527.00V528.20 M193.42,527.00V528.20 M194.81,527.00V528.20 M204.22,527.00V528.20 M208.99,527.00V528.20 M212.38,527.00V528.20 M215.01,527.00V528.20 M217.16,527.00V528.20 M218.97,527.00V528.20 M220.55,527.00V528.20 M221.93,527.00V528.20 M231.34,527.00V528.20 M236.12,527.00V528.20 M239.51,527.00V528.20 M242.13,527.00V528.20 M244.28,527.00V528.20 M246.10,527.00V528.20 M247.67,527.00V528.20 M249.06,527.00V528.20" stroke="#000" stroke-width="0.5" stroke-opacity="0.6" fill="none"/>
<rect x="141.80" y="439.20" width="108.50" height="87.80" fill="none" stroke="#000" stroke-width="1.5"/>
<text font-size="14.0" text-anchor="middle" transform="translate(195.00,434.34) scale(1.0,0.93)">ST-HSC</text>
<path d="M197.20,495.60H249.20M197.20,493.60V497.60M249.20,493.60V497.60" stroke="#000" stroke-width="1.5" fill="none"/>
<text x="227.78" y="492.44" font-size="12" text-anchor="middle">29.9</text>
<polygon points="266.60,527.00 266.60,521.00 269.70,521.80 272.80,521.00 275.80,518.00 278.90,511.80 282.00,504.00 285.00,498.00 288.00,492.00 291.00,487.00 293.50,483.00 295.00,481.30 296.00,477.50 297.40,471.70 298.80,466.90 300.30,462.00 301.70,463.10 303.20,466.00 304.60,468.80 305.60,463.10 307.00,455.40 308.00,445.80 308.90,452.00 309.70,465.00 310.50,476.50 312.00,487.20 314.30,491.80 315.80,490.30 317.40,499.50 318.90,510.30 321.20,519.50 323.50,524.90 326.60,526.50 326.60,527.00" fill="#d2d2d2" stroke="none"/>
<polyline points="266.60,521.00 269.70,521.80 272.80,521.00 275.80,518.00 278.90,511.80 282.00,504.00 285.00,498.00 288.00,492.00 291.00,487.00 293.50,483.00 295.00,481.30 296.00,477.50 297.40,471.70 298.80,466.90 300.30,462.00 301.70,463.10 303.20,466.00 304.60,468.80 305.60,463.10 307.00,455.40 308.00,445.80 308.90,452.00 309.70,465.00 310.50,476.50 312.00,487.20 314.30,491.80 315.80,490.30 317.40,499.50 318.90,510.30 321.20,519.50 323.50,524.90 326.60,526.50" fill="none" stroke="#666" stroke-width="1.6" stroke-linejoin="round" stroke-linecap="round"/>
<polyline points="266.60,521.00 271.20,518.00 274.30,513.40 277.40,510.30 280.50,507.20 283.50,502.60 285.10,493.40 287.40,484.20 289.70,478.00 292.00,473.40 294.30,468.80 296.60,467.20 298.90,459.50 300.50,445.70 302.30,450.30 304.30,461.00 306.60,447.20 308.20,456.50 309.70,468.80 311.20,484.20 313.50,496.50 315.10,502.60 316.60,508.80 318.90,516.50 321.20,521.80 323.50,524.90 327.00,526.50" fill="none" stroke="#000" stroke-width="1.9" stroke-linejoin="round" stroke-linecap="round" stroke-dasharray="0.01 3.2"/>
<polyline points="266.60,521.80 271.20,524.20 274.30,522.60 277.40,521.80 282.00,521.80 286.60,520.30 289.70,518.00 292.00,518.80 293.50,511.80 295.10,508.80 296.60,502.60 298.20,502.60 299.70,498.00 301.20,494.90 302.80,490.30 304.30,491.80 305.80,485.70 307.40,474.90 308.90,468.80 310.50,459.50 312.00,454.90 313.50,447.20 315.10,444.20 316.60,448.80 318.20,456.50 319.70,468.80 321.20,474.90 322.80,470.30 324.30,479.50 325.80,496.50 327.40,507.20 329.70,518.00 332.80,524.20 337.40,526.50 345.00,527.00" fill="none" stroke="#000" stroke-width="1.9" stroke-linejoin="round" stroke-linecap="round"/>
<path d="M266,440V526" stroke="#000" stroke-width="2.2" fill="none"/>
<path d="M263.00,456.76H265.20 M263.00,474.32H265.20 M263.00,491.88H265.20 M263.00,509.44H265.20 M292.40,527.00V529.20 M319.60,527.00V529.20 M346.80,527.00V529.20" stroke="#000" stroke-width="0.9" fill="none"/>
<path d="M264.00,447.98H265.20 M264.00,465.54H265.20 M264.00,483.10H265.20 M264.00,500.66H265.20 M264.00,518.22H265.20 M273.39,527.00V528.20 M278.18,527.00V528.20 M281.58,527.00V528.20 M284.21,527.00V528.20 M286.37,527.00V528.20 M288.19,527.00V528.20 M289.76,527.00V528.20 M291.16,527.00V528.20 M300.59,527.00V528.20 M305.38,527.00V528.20 M308.78,527.00V528.20 M311.41,527.00V528.20 M313.57,527.00V528.20 M315.39,527.00V528.20 M316.96,527.00V528.20 M318.36,527.00V528.20 M327.79,527.00V528.20 M332.58,527.00V528.20 M335.98,527.00V528.20 M338.61,527.00V528.20 M340.77,527.00V528.20 M342.59,527.00V528.20 M344.16,527.00V528.20 M345.56,527.00V528.20 M354.99,527.00V528.20 M359.78,527.00V528.20 M363.18,527.00V528.20 M365.81,527.00V528.20 M367.97,527.00V528.20 M369.79,527.00V528.20 M371.36,527.00V528.20 M372.76,527.00V528.20" stroke="#000" stroke-width="0.5" stroke-opacity="0.6" fill="none"/>
<rect x="265.20" y="439.20" width="108.80" height="87.80" fill="none" stroke="#000" stroke-width="1.5"/>
<text font-size="14.0" text-anchor="middle" transform="translate(318.32,436.96) scale(1.0,0.93)">MPP</text>
<path d="M320.70,496.30H373.20M320.70,494.30V498.30M373.20,494.30V498.30" stroke="#000" stroke-width="1.5" fill="none"/>
<text x="349.28" y="492.96" font-size="12" text-anchor="middle">16.1</text>
<text font-size="21.5" text-anchor="start" font-weight="bold" transform="translate(1.20,567.96) scale(0.9,1.0)">F</text>
<path d="M6.20,647.90V675.80H33.30" stroke="#000" stroke-width="1.8" fill="none"/>
<path d="M6.20,643.90L3.80,648.40L8.60,648.40Z" fill="#000"/>
<path d="M37.30,675.80L32.80,673.40L32.80,678.20Z" fill="#000"/>
<text font-size="12.2" text-anchor="start" transform="translate(39.80,680.94) scale(1.0,0.85)">mJAM-C</text>
<text font-size="12" text-anchor="middle" transform="translate(14.28,609.46) rotate(-90) scale(1.0,0.87)">Cell count</text>
<polygon points="20.80,665.70 20.80,655.50 23.20,650.90 25.50,646.30 27.80,638.60 30.10,630.90 31.60,635.50 33.20,643.20 34.70,641.70 36.20,620.20 37.80,587.80 39.30,595.50 40.80,594.00 42.40,590.90 43.90,582.50 45.50,592.50 47.00,600.20 49.30,595.50 50.80,601.70 52.40,612.50 53.90,627.80 55.50,643.20 57.30,654.00 59.30,660.20 61.60,663.20 64.00,665.00 64.00,665.70" fill="#d2d2d2" stroke="none"/>
<polyline points="20.80,655.50 23.20,650.90 25.50,646.30 27.80,638.60 30.10,630.90 31.60,635.50 33.20,643.20 34.70,641.70 36.20,620.20 37.80,587.80 39.30,595.50 40.80,594.00 42.40,590.90 43.90,582.50 45.50,592.50 47.00,600.20 49.30,595.50 50.80,601.70 52.40,612.50 53.90,627.80 55.50,643.20 57.30,654.00 59.30,660.20 61.60,663.20 64.00,665.00" fill="none" stroke="#666" stroke-width="1.6" stroke-linejoin="round" stroke-linecap="round"/>
<polyline points="21.60,654.00 23.90,641.70 26.20,632.50 29.30,623.20 32.40,614.00 34.70,610.90 37.00,607.80 39.30,601.70 41.60,594.00 43.90,590.90 46.20,586.30 47.80,583.20 49.60,583.20 50.80,592.50 52.10,604.80 53.20,620.20 54.20,635.50 55.50,647.80 57.30,657.10 60.10,662.50 64.00,665.00" fill="none" stroke="#000" stroke-width="1.9" stroke-linejoin="round" stroke-linecap="round" stroke-dasharray="0.01 3.2"/>
<polyline points="20.80,654.00 23.20,657.10 25.50,658.60 27.80,655.50 30.80,657.80 33.20,649.40 34.70,646.30 36.20,635.50 37.80,626.30 39.30,624.80 40.80,617.10 42.40,612.50 43.90,604.80 45.50,600.20 47.00,597.10 48.50,595.50 50.10,589.40 51.60,587.80 53.20,583.20 54.20,583.20 55.20,592.50 56.20,604.80 57.80,606.30 59.30,612.50 60.80,620.20 61.90,620.20 62.40,627.10 63.20,632.50 63.90,641.70 65.50,654.00 67.80,661.70 70.80,663.20 75.50,664.50 80.00,665.30" fill="none" stroke="#000" stroke-width="1.9" stroke-linejoin="round" stroke-linecap="round"/>
<path d="M20.6,640V665" stroke="#000" stroke-width="1.6" fill="none"/>
<path d="M17.60,595.38H19.80 M17.60,612.96H19.80 M17.60,630.54H19.80 M17.60,648.12H19.80 M47.02,665.70V667.90 M74.25,665.70V667.90 M101.47,665.70V667.90" stroke="#000" stroke-width="0.9" fill="none"/>
<path d="M18.60,586.59H19.80 M18.60,604.17H19.80 M18.60,621.75H19.80 M18.60,639.33H19.80 M18.60,656.91H19.80 M28.00,665.70V666.90 M32.79,665.70V666.90 M36.19,665.70V666.90 M38.83,665.70V666.90 M40.99,665.70V666.90 M42.81,665.70V666.90 M44.39,665.70V666.90 M45.78,665.70V666.90 M55.22,665.70V666.90 M60.01,665.70V666.90 M63.42,665.70V666.90 M66.05,665.70V666.90 M68.21,665.70V666.90 M70.03,665.70V666.90 M71.61,665.70V666.90 M73.00,665.70V666.90 M82.45,665.70V666.90 M87.24,665.70V666.90 M90.64,665.70V666.90 M93.28,665.70V666.90 M95.44,665.70V666.90 M97.26,665.70V666.90 M98.84,665.70V666.90 M100.23,665.70V666.90 M109.67,665.70V666.90 M114.46,665.70V666.90 M117.87,665.70V666.90 M120.50,665.70V666.90 M122.66,665.70V666.90 M124.48,665.70V666.90 M126.06,665.70V666.90 M127.45,665.70V666.90" stroke="#000" stroke-width="0.5" stroke-opacity="0.6" fill="none"/>
<rect x="19.80" y="577.80" width="108.90" height="87.90" fill="none" stroke="#000" stroke-width="1.5"/>
<text font-size="14.0" text-anchor="middle" transform="translate(72.34,571.34) scale(1.0,0.93)">CLP</text>
<path d="M62.50,626.80H127.50M62.50,624.80V628.80M127.50,624.80V628.80" stroke="#000" stroke-width="1.5" fill="none"/>
<text x="96.16" y="622.76" font-size="12" text-anchor="middle">11.3</text>
<polygon points="142.60,665.70 142.60,662.50 147.20,661.70 150.30,657.10 153.40,647.80 155.70,638.60 158.00,624.80 160.30,607.80 162.60,592.50 164.90,583.20 166.50,584.80 168.00,594.00 169.50,612.50 171.10,632.50 172.60,647.80 174.20,657.80 176.50,662.50 180.00,665.00 180.00,665.70" fill="#d2d2d2" stroke="none"/>
<polyline points="142.60,662.50 147.20,661.70 150.30,657.10 153.40,647.80 155.70,638.60 158.00,624.80 160.30,607.80 162.60,592.50 164.90,583.20 166.50,584.80 168.00,594.00 169.50,612.50 171.10,632.50 172.60,647.80 174.20,657.80 176.50,662.50 180.00,665.00" fill="none" stroke="#555" stroke-width="1.3" stroke-linejoin="round" stroke-linecap="round"/>
<polyline points="142.00,660.00 145.70,650.90 148.80,641.70 151.80,632.50 154.90,620.20 157.20,604.80 159.50,594.00 161.10,584.80 162.60,582.50 164.20,587.80 165.70,597.10 167.20,609.40 168.80,624.80 170.30,640.20 172.20,652.50 174.20,659.40 177.00,662.50 182.00,665.00" fill="none" stroke="#000" stroke-width="1.9" stroke-linejoin="round" stroke-linecap="round" stroke-dasharray="0.01 3.2"/>
<polyline points="141.80,661.70 145.70,662.50 148.80,657.10 151.10,650.90 153.40,646.30 155.70,638.60 158.00,623.20 160.30,610.90 162.60,597.10 164.20,589.40 165.70,582.50 167.20,584.80 168.80,595.50 170.30,604.80 171.50,592.50 172.60,590.90 173.70,601.70 174.60,610.90 175.70,603.20 176.80,612.50 178.00,620.20 179.20,629.40 180.80,624.80 182.60,630.90 184.90,634.00 186.90,641.70 188.80,650.90 191.10,655.50 194.20,657.80 196.50,660.90 199.50,662.90 205.70,663.80 215.00,665.00" fill="none" stroke="#000" stroke-width="1.9" stroke-linejoin="round" stroke-linecap="round"/>
<path d="M138.60,595.38H140.80 M138.60,612.96H140.80 M138.60,630.54H140.80 M138.60,648.12H140.80 M168.05,665.70V667.90 M195.30,665.70V667.90 M222.55,665.70V667.90" stroke="#000" stroke-width="0.9" fill="none"/>
<path d="M139.60,586.59H140.80 M139.60,604.17H140.80 M139.60,621.75H140.80 M139.60,639.33H140.80 M139.60,656.91H140.80 M149.00,665.70V666.90 M153.80,665.70V666.90 M157.21,665.70V666.90 M159.85,665.70V666.90 M162.00,665.70V666.90 M163.83,665.70V666.90 M165.41,665.70V666.90 M166.80,665.70V666.90 M176.25,665.70V666.90 M181.05,665.70V666.90 M184.46,665.70V666.90 M187.10,665.70V666.90 M189.25,665.70V666.90 M191.08,665.70V666.90 M192.66,665.70V666.90 M194.05,665.70V666.90 M203.50,665.70V666.90 M208.30,665.70V666.90 M211.71,665.70V666.90 M214.35,665.70V666.90 M216.50,665.70V666.90 M218.33,665.70V666.90 M219.91,665.70V666.90 M221.30,665.70V666.90 M230.75,665.70V666.90 M235.55,665.70V666.90 M238.96,665.70V666.90 M241.60,665.70V666.90 M243.75,665.70V666.90 M245.58,665.70V666.90 M247.16,665.70V666.90 M248.55,665.70V666.90" stroke="#000" stroke-width="0.5" stroke-opacity="0.6" fill="none"/>
<rect x="140.80" y="577.80" width="109.00" height="87.90" fill="none" stroke="#000" stroke-width="1.5"/>
<text font-size="14.0" text-anchor="middle" transform="translate(194.40,571.34) scale(1.0,0.93)">CMP</text>
<path d="M177.90,620.10H247.00M177.90,618.10V622.10M247.00,618.10V622.10" stroke="#000" stroke-width="1.5" fill="none"/>
<text x="216.14" y="616.56" font-size="12" text-anchor="middle">19.5</text>
<polygon points="263.40,665.70 263.40,663.20 267.20,661.70 270.30,657.10 273.40,649.40 276.50,638.60 278.80,626.30 281.10,612.50 283.40,598.60 285.40,589.40 286.90,584.80 288.50,592.50 290.00,607.80 291.50,624.80 293.10,640.20 294.90,652.50 297.20,660.20 299.50,662.90 303.00,665.00 303.00,665.70" fill="#d2d2d2" stroke="none"/>
<polyline points="263.40,663.20 267.20,661.70 270.30,657.10 273.40,649.40 276.50,638.60 278.80,626.30 281.10,612.50 283.40,598.60 285.40,589.40 286.90,584.80 288.50,592.50 290.00,607.80 291.50,624.80 293.10,640.20 294.90,652.50 297.20,660.20 299.50,662.90 303.00,665.00" fill="none" stroke="#555" stroke-width="1.2" stroke-linejoin="round" stroke-linecap="round"/>
<polyline points="262.60,660.00 265.70,657.10 268.80,650.90 271.80,641.70 274.90,629.40 278.00,617.10 280.30,604.80 282.60,590.90 284.20,584.80 286.50,583.20 288.00,589.40 289.50,601.70 291.10,617.10 292.60,632.50 294.60,646.30 296.50,655.50 298.80,660.90 303.00,663.50 308.00,665.00" fill="none" stroke="#000" stroke-width="1.9" stroke-linejoin="round" stroke-linecap="round" stroke-dasharray="0.01 3.2"/>
<polyline points="262.40,654.00 263.40,661.70 265.70,662.50 268.80,657.80 271.80,647.80 274.90,634.00 278.00,621.70 280.30,615.50 281.80,609.40 283.40,598.60 285.40,586.30 287.20,583.20 288.80,590.90 290.00,600.20 291.50,604.80 293.10,614.00 294.60,624.80 296.20,634.00 297.70,637.10 299.20,644.80 301.10,649.40 302.60,650.20 304.20,647.80 305.70,652.50 307.20,657.10 309.50,660.20 311.80,662.50 314.90,664.00 322.00,665.30" fill="none" stroke="#000" stroke-width="1.9" stroke-linejoin="round" stroke-linecap="round"/>
<path d="M259.70,595.38H261.90 M259.70,612.96H261.90 M259.70,630.54H261.90 M259.70,648.12H261.90 M289.20,665.70V667.90 M316.50,665.70V667.90 M343.80,665.70V667.90" stroke="#000" stroke-width="0.9" fill="none"/>
<path d="M260.70,586.59H261.90 M260.70,604.17H261.90 M260.70,621.75H261.90 M260.70,639.33H261.90 M260.70,656.91H261.90 M270.12,665.70V666.90 M274.93,665.70V666.90 M278.34,665.70V666.90 M280.98,665.70V666.90 M283.14,665.70V666.90 M284.97,665.70V666.90 M286.55,665.70V666.90 M287.95,665.70V666.90 M297.42,665.70V666.90 M302.23,665.70V666.90 M305.64,665.70V666.90 M308.28,665.70V666.90 M310.44,665.70V666.90 M312.27,665.70V666.90 M313.85,665.70V666.90 M315.25,665.70V666.90 M324.72,665.70V666.90 M329.53,665.70V666.90 M332.94,665.70V666.90 M335.58,665.70V666.90 M337.74,665.70V666.90 M339.57,665.70V666.90 M341.15,665.70V666.90 M342.55,665.70V666.90 M352.02,665.70V666.90 M356.83,665.70V666.90 M360.24,665.70V666.90 M362.88,665.70V666.90 M365.04,665.70V666.90 M366.87,665.70V666.90 M368.45,665.70V666.90 M369.85,665.70V666.90" stroke="#000" stroke-width="0.5" stroke-opacity="0.6" fill="none"/>
<rect x="261.90" y="577.80" width="109.20" height="87.90" fill="none" stroke="#000" stroke-width="1.5"/>
<text font-size="14.0" text-anchor="middle" transform="translate(314.60,571.34) scale(1.0,0.93)">GMP</text>
<path d="M299.80,620.10H369.20M299.80,618.10V622.10M369.20,618.10V622.10" stroke="#000" stroke-width="1.5" fill="none"/>
<text x="332.22" y="616.48" font-size="12" text-anchor="middle">7.5</text>
<polygon points="385.40,665.70 385.40,663.20 389.20,661.70 392.30,657.10 395.40,650.90 397.70,640.20 400.00,626.30 402.30,614.00 404.60,606.30 406.50,600.20 408.00,594.00 409.50,597.10 411.10,610.90 412.60,626.30 414.20,640.20 416.20,652.50 418.50,660.20 420.80,662.90 424.00,665.00 424.00,665.70" fill="#d2d2d2" stroke="none"/>
<polyline points="384.00,660.00 389.20,652.50 393.80,638.60 396.90,623.20 399.20,610.90 401.50,595.50 403.10,586.30 404.60,583.20 406.20,589.40 407.70,598.60 409.20,592.50 410.80,604.80 412.30,618.60 413.80,632.50 415.70,644.80 417.70,655.50 420.00,660.90 424.00,664.50" fill="none" stroke="#666" stroke-width="1.5" stroke-linejoin="round" stroke-linecap="round"/>
<polyline points="384.00,660.00 388.50,654.00 391.50,644.80 394.60,632.50 396.90,617.10 399.20,603.20 401.50,590.90 403.10,583.20 404.60,582.50 406.20,587.80 407.70,600.20 409.20,617.10 410.80,630.90 412.30,643.20 413.80,654.00 416.20,660.90 420.00,663.50 426.00,665.00" fill="none" stroke="#000" stroke-width="1.9" stroke-linejoin="round" stroke-linecap="round" stroke-dasharray="0.01 3.2"/>
<polyline points="383.60,650.90 384.60,660.20 386.90,661.70 389.20,658.60 391.50,652.50 393.80,649.40 396.20,646.30 398.50,638.60 400.80,623.20 402.80,614.00 404.60,609.40 406.50,604.80 407.70,595.50 408.90,582.50 410.00,586.30 410.80,600.20 412.30,609.40 413.80,607.10 415.10,618.60 416.60,627.80 417.70,635.50 419.20,632.50 420.30,635.50 421.50,643.20 423.80,649.40 426.20,654.00 428.50,657.80 430.80,661.70 433.80,662.50 438.50,662.90 444.60,663.50 450.80,664.20 460.00,665.20" fill="none" stroke="#000" stroke-width="1.9" stroke-linejoin="round" stroke-linecap="round"/>
<path d="M380.90,595.38H383.10 M380.90,612.96H383.10 M380.90,630.54H383.10 M380.90,648.12H383.10 M410.43,665.70V667.90 M437.75,665.70V667.90 M465.07,665.70V667.90" stroke="#000" stroke-width="0.9" fill="none"/>
<path d="M381.90,586.59H383.10 M381.90,604.17H383.10 M381.90,621.75H383.10 M381.90,639.33H383.10 M381.90,656.91H383.10 M391.33,665.70V666.90 M396.14,665.70V666.90 M399.55,665.70V666.90 M402.20,665.70V666.90 M404.36,665.70V666.90 M406.19,665.70V666.90 M407.78,665.70V666.90 M409.17,665.70V666.90 M418.65,665.70V666.90 M423.46,665.70V666.90 M426.88,665.70V666.90 M429.52,665.70V666.90 M431.69,665.70V666.90 M433.52,665.70V666.90 M435.10,665.70V666.90 M436.50,665.70V666.90 M445.98,665.70V666.90 M450.79,665.70V666.90 M454.20,665.70V666.90 M456.85,665.70V666.90 M459.01,665.70V666.90 M460.84,665.70V666.90 M462.43,665.70V666.90 M463.82,665.70V666.90 M473.30,665.70V666.90 M478.11,665.70V666.90 M481.53,665.70V666.90 M484.17,665.70V666.90 M486.34,665.70V666.90 M488.17,665.70V666.90 M489.75,665.70V666.90 M491.15,665.70V666.90" stroke="#000" stroke-width="0.5" stroke-opacity="0.6" fill="none"/>
<rect x="383.10" y="577.80" width="109.30" height="87.90" fill="none" stroke="#000" stroke-width="1.5"/>
<text font-size="14.0" text-anchor="middle" transform="translate(435.58,571.34) scale(1.0,0.93)">MEP</text>
<path d="M421.30,620.10H489.70M421.30,618.10V622.10M489.70,618.10V622.10" stroke="#000" stroke-width="1.5" fill="none"/>
<text x="456.80" y="616.48" font-size="12" text-anchor="middle">9.5</text>
</svg>
</body></html>
